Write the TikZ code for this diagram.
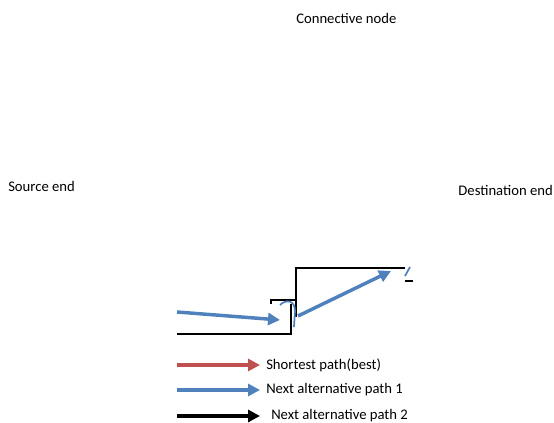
\documentclass[tikz,border=0pt]{standalone}
\usepackage{fontspec}
\setmainfont{Carlito}
\usepackage{tikz}
\usetikzlibrary{arrows.meta,calc}
\usepackage{xcolor}
\definecolor{pathred}{HTML}{C0504D}
\definecolor{pathblue}{HTML}{4F81BD}
\definecolor{ink}{HTML}{000000}

\begin{document}
\begin{tikzpicture}[x=0.75pt, y=-0.75pt, font=\fontsize{11}{13}\selectfont,
    label/.style={inner sep=0pt, text=ink},
    wire/.style={draw=ink, line width=0.9pt},
    route/.style={line width=2.6pt, -{Triangle[length=9pt, width=9pt]}},
    frag/.style={draw=pathblue, line width=1.3pt}]
  \useasboundingbox (0,0) rectangle (554,423);
  % end labels
  \node[label, anchor=west] (conn) at (296,18) {Connective node};
  \node[label, anchor=west] (src) at (8,186) {Source end};
  \node[label, anchor=east] (dst) at (553,190) {Destination end};
  % outline pieces
  \coordinate (b0) at (177,334);
  \coordinate (b1) at (291,334);
  \coordinate (s0) at (271,304);
  \coordinate (t0) at (296,317);
  \coordinate (t1) at (405,268);
  \coordinate (t2) at (413,281);
  \draw[wire] (b0) -- (b1) -- (b1 |- 0,304);
  \draw[wire] (s0) -- (271,300) -- (296,300);
  \draw[wire] (t0) -- (296,268) -- (t1);
  \draw[wire] (t1 |- t2) -- (t2);
  % routes through the network
  \coordinate (r0) at (177,312);
  \coordinate (r1) at (280,320);
  \coordinate (r2) at (298,316);
  \coordinate (r3) at (391,271);
  \draw[route, pathblue] (r0) -- (r1);
  \draw[route, pathblue] (r2) -- (r3);
  \draw[frag] (280,305) .. controls (286,299) and (295,300) .. (295,311) -- (294,327);
  \draw[frag] (405,276) -- (410,267);
  % legend
  \coordinate (k1) at (177,365);
  \coordinate (k2) at (177,390);
  \coordinate (k3) at (177,416);
  \draw[route, pathred] (k1) -- ++(83,0) coordinate (k1e);
  \draw[route, pathblue] (k2) -- ++(83,0) coordinate (k2e);
  \draw[route, ink] (k3) -- ++(83,0) coordinate (k3e);
  \node[label, anchor=west] (best) at ($(k1e)+(6,0)$) {Shortest path(best)};
  \node[label, anchor=west] (alt1) at ($(k2e)+(6,0)$) {Next alternative path 1};
  \node[label, anchor=west] (alt2) at ($(k3e)+(11,0)$) {Next alternative path 2};
\end{tikzpicture}
\end{document}
